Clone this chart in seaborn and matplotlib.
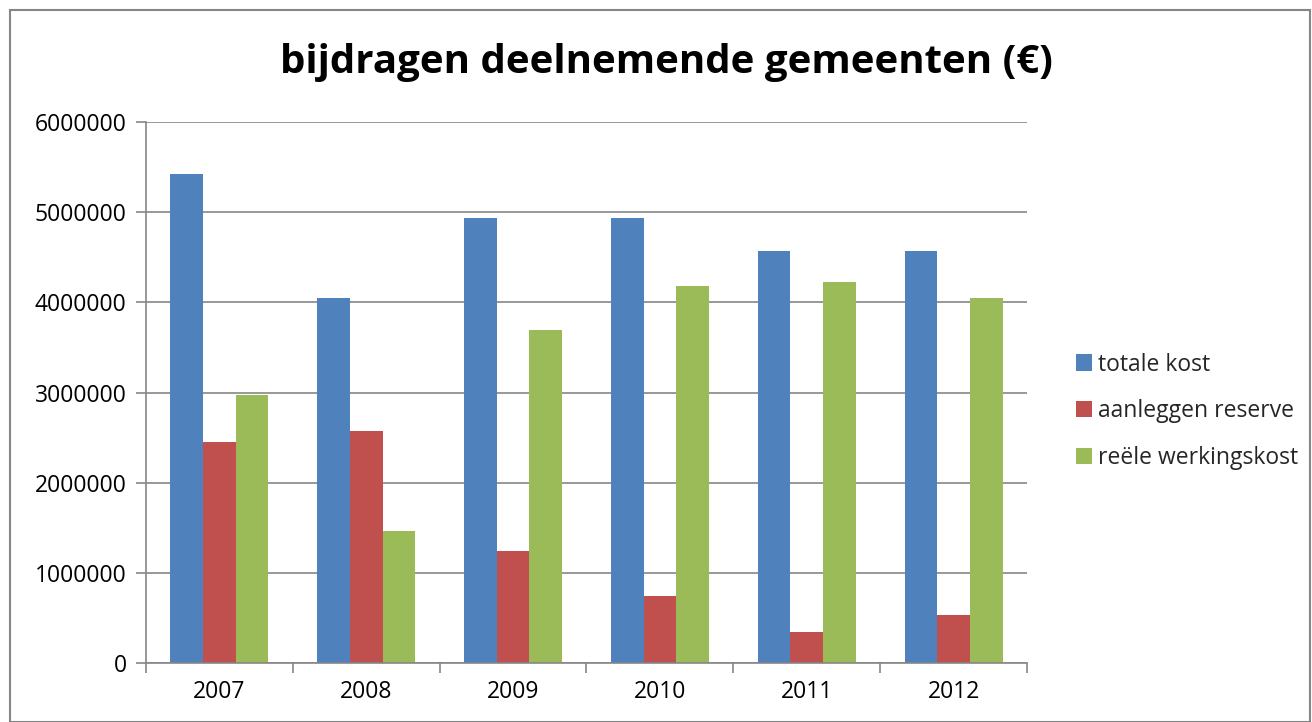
import matplotlib
matplotlib.use("Agg")
import matplotlib.pyplot as plt
import matplotlib.ticker as mticker
import seaborn as sns
import pandas as pd
from matplotlib.patches import Rectangle

years = ["2007", "2008", "2009", "2010", "2011", "2012"]
series_names = ["totale kost", "aanleggen reserve", "reële werkingskost"]
totale_kost = [5420000, 4045000, 4930000, 4930000, 4570000, 4570000]
aanleggen_reserve = [2450000, 2570000, 1240000, 745000, 345000, 535000]
reele_werkingskost = [2975000, 1465000, 3690000, 4185000, 4225000, 4045000]
colors = ["#4F81BD", "#C0504D", "#9BBB59"]

df = pd.DataFrame({
    "jaar": years * 3,
    "reeks": [series_names[0]] * 6 + [series_names[1]] * 6 + [series_names[2]] * 6,
    "waarde": totale_kost + aanleggen_reserve + reele_werkingskost,
})

sns.set_theme(style="white")
plt.rcParams["font.family"] = ["Open Sans", "DejaVu Sans"]

fig = plt.figure(figsize=(13.12, 7.22), dpi=100)
ax = fig.add_axes([146 / 1312, 59 / 722, 881 / 1312, 541 / 722])

sns.barplot(data=df, x="jaar", y="waarde", hue="reeks", hue_order=series_names,
            palette=colors, width=0.667, gap=0, saturation=1, ax=ax,
            edgecolor="none", linewidth=0)

ax.set_ylim(0, 6000000)
ax.set_xlim(-0.5, 5.5)
ax.set_yticks(range(0, 6000001, 1000000))
ax.yaxis.set_major_formatter(mticker.FuncFormatter(lambda v, p: f"{int(v)}"))
ax.set_xlabel("")
ax.set_ylabel("")
ax.grid(axis="y", color="#868686", linewidth=1.2)
ax.set_axisbelow(True)
for s in ["top", "right"]:
    ax.spines[s].set_visible(False)
for s in ["left", "bottom"]:
    ax.spines[s].set_color("#868686")
    ax.spines[s].set_linewidth(1.2)
ax.set_xticks([i - 0.5 for i in range(7)], minor=True)
ax.tick_params(axis="x", which="major", length=0, labelsize=16.5, pad=12, colors="black")
ax.tick_params(axis="x", which="minor", length=7, width=1.2, color="#868686", direction="out", bottom=True)
ax.tick_params(axis="y", length=7, width=1.2, color="#868686", direction="out", left=True, labelsize=16.5, pad=7)
for lab in ax.get_xticklabels() + ax.get_yticklabels():
    lab.set_color("black")

handles, labels = ax.get_legend_handles_labels()
ax.legend(handles, labels, loc="center left", bbox_to_anchor=(1.045, 0.465), frameon=False,
          fontsize=16.5, handlelength=0.7, handleheight=0.7, handletextpad=0.25,
          labelspacing=1.0, borderaxespad=0)

fig.text(666 / 1312, 1 - 63 / 722, "bijdragen deelnemende gemeenten (€)",
         ha="center", va="center", fontsize=29, fontweight="bold", color="black")

border = Rectangle((10 / 1312, 0), 1 - 12 / 1312, 1 - 10 / 722, transform=fig.transFigure,
                   fill=False, edgecolor="#868686", linewidth=1.5)
fig.patches.append(border)

fig.savefig("out.png", dpi=100)
